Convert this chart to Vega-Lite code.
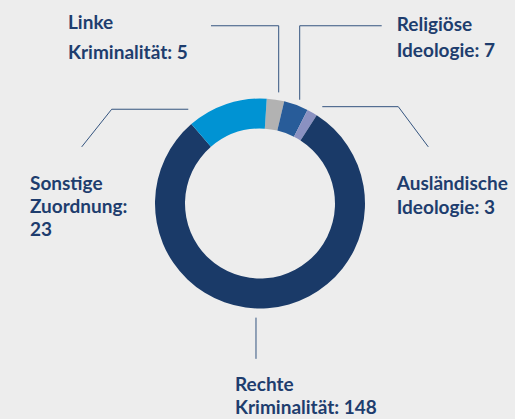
{
  "$schema": "https://vega.github.io/schema/vega-lite/v6.json",
  "width": 515,
  "height": 419,
  "autosize": {"type": "fit", "contains": "padding"},
  "padding": 0,
  "background": "#ededed",
  "config": {"view": {"stroke": null}},
  "datasets": {
    "slices": [
      {"kategorie": "Linke Kriminalität", "anzahl": 5, "ord": 1},
      {"kategorie": "Religiöse Ideologie", "anzahl": 7, "ord": 2},
      {"kategorie": "Ausländische Ideologie", "anzahl": 3, "ord": 3},
      {"kategorie": "Rechte Kriminalität", "anzahl": 148, "ord": 4},
      {"kategorie": "Sonstige Zuordnung", "anzahl": 23, "ord": 5}
    ],
    "leaders": [
      {"kategorie": "Linke Kriminalität", "p": 1, "u": -0.4667, "v": 1.7095},
      {"kategorie": "Linke Kriminalität", "p": 2, "u": 0.1781, "v": 1.7095},
      {"kategorie": "Linke Kriminalität", "p": 3, "u": 0.1781, "v": 1.0686},
      {"kategorie": "Religiöse Ideologie", "p": 1, "u": 0.3781, "v": 0.9981},
      {"kategorie": "Religiöse Ideologie", "p": 2, "u": 0.3781, "v": 1.7095},
      {"kategorie": "Religiöse Ideologie", "p": 3, "u": 1.159, "v": 1.7095},
      {"kategorie": "Ausländische Ideologie", "p": 1, "u": 0.5933, "v": 0.9314},
      {"kategorie": "Ausländische Ideologie", "p": 2, "u": 1.3171, "v": 0.9314},
      {"kategorie": "Ausländische Ideologie", "p": 3, "u": 1.6029, "v": 0.5448},
      {"kategorie": "Sonstige Zuordnung", "p": 1, "u": -0.6829, "v": 0.9067},
      {"kategorie": "Sonstige Zuordnung", "p": 2, "u": -1.4124, "v": 0.9067},
      {"kategorie": "Sonstige Zuordnung", "p": 3, "u": -1.6981, "v": 0.5448},
      {"kategorie": "Rechte Kriminalität", "p": 1, "u": -0.0381, "v": -1.0971},
      {"kategorie": "Rechte Kriminalität", "p": 2, "u": -0.0381, "v": -1.4933}
    ],
    "labels": [
      {"text": "Linke", "u": -1.8286, "v": 1.681},
      {"text": "Kriminalität: 5", "u": -1.8286, "v": 1.3857},
      {"text": "Religiöse", "u": 1.3019, "v": 1.6552},
      {"text": "Ideologie: 7", "u": 1.3019, "v": 1.4114},
      {"text": "Ausländische", "u": 1.3019, "v": 0.1314},
      {"text": "Ideologie: 3", "u": 1.3019, "v": -0.1},
      {"text": "Sonstige", "u": -2.1905, "v": 0.1257},
      {"text": "Zuordnung:", "u": -2.1905, "v": -0.0905},
      {"text": "23", "u": -2.1905, "v": -0.3124},
      {"text": "Rechte", "u": -0.2381, "v": -1.8048},
      {"text": "Kriminalität: 148", "u": -0.2381, "v": -2.0267}
    ]
  },
  "layer": [
    {
      "data": {"name": "slices"},
      "mark": {"type": "arc", "outerRadius": 105, "innerRadius": 75},
      "encoding": {
        "x": {"datum": 0, "type": "quantitative", "scale": {"domain": [-2.4762, 2.4286], "nice": false, "zero": false}, "axis": null},
        "y": {"datum": 0, "type": "quantitative", "scale": {"domain": [-2.0333, 1.9571], "nice": false, "zero": false}, "axis": null},
        "theta": {"field": "anzahl", "type": "quantitative", "stack": true, "scale": {"range": [0.064, 6.3472]}},
        "order": {"field": "ord", "type": "quantitative"},
        "color": {
          "field": "kategorie",
          "type": "nominal",
          "legend": null,
          "scale": {
            "domain": ["Linke Kriminalität", "Religiöse Ideologie", "Ausländische Ideologie", "Rechte Kriminalität", "Sonstige Zuordnung"],
            "range": ["#b2b2b2", "#285c99", "#8a91c1", "#1a3a68", "#0093d3"]
          }
        }
      }
    },
    {
      "data": {"name": "leaders"},
      "mark": {"type": "line", "color": "#34547f", "strokeWidth": 1},
      "encoding": {
        "x": {"field": "u", "type": "quantitative"},
        "y": {"field": "v", "type": "quantitative"},
        "detail": {"field": "kategorie"},
        "order": {"field": "p", "type": "quantitative"}
      }
    },
    {
      "data": {"name": "labels"},
      "mark": {"type": "text", "align": "left", "baseline": "alphabetic", "font": "Lato", "fontWeight": "bold", "fontSize": 19, "color": "#1e3d6e"},
      "encoding": {
        "x": {"field": "u", "type": "quantitative"},
        "y": {"field": "v", "type": "quantitative"},
        "text": {"field": "text"}
      }
    }
  ]
}
